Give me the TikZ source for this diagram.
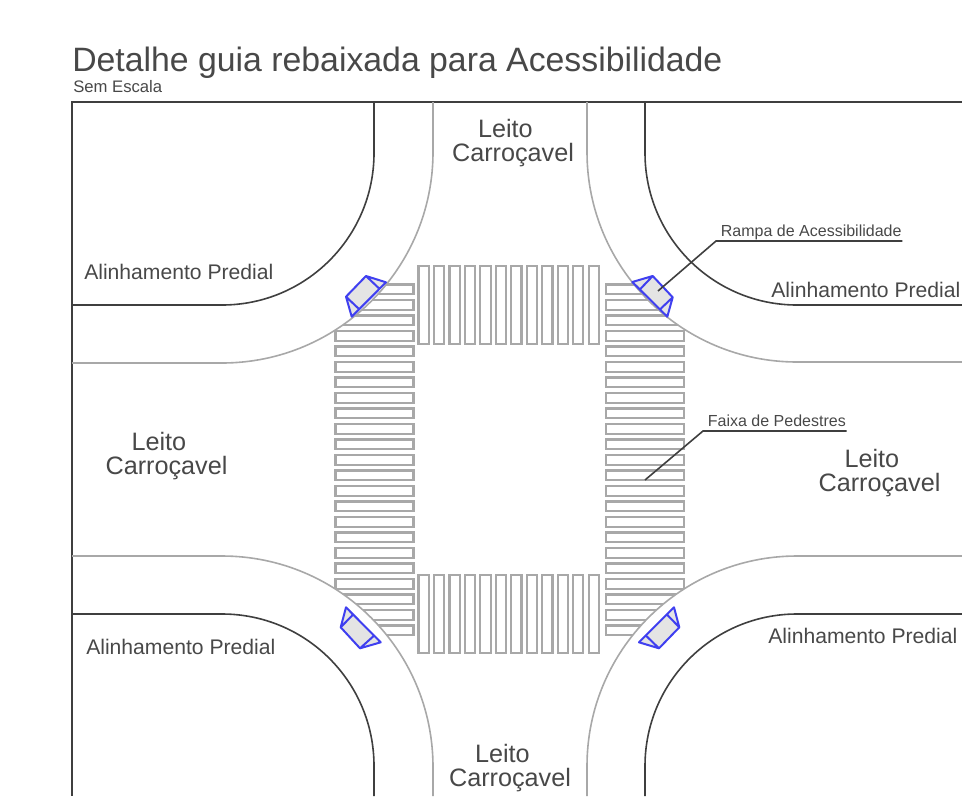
\documentclass[tikz,border=0pt]{standalone}
\usepackage{fontspec}
\setmainfont{Liberation Sans}
\usepackage{tikz}
\definecolor{kerbgray}{HTML}{A8A8A8}
\definecolor{walldark}{HTML}{3F3F3F}
\definecolor{textgray}{HTML}{484848}
\definecolor{rampblue}{HTML}{3F3FF0}
\definecolor{rampfill}{HTML}{E4E4E4}
\tikzstyle{wall}=[%
      draw=walldark, line width=1.2pt
]
\tikzstyle{kerb}=[%
      draw=kerbgray, line width=1.2pt
]
\tikzstyle{bar}=[%
      draw=kerbgray, line width=1.6pt, fill=white
]
\tikzstyle{ramp}=[%
      draw=rampblue, line width=1.5pt, fill=rampfill, line join=round
]
\tikzstyle{road}=[%
      text=textgray, align=left, font=\fontsize{18.9}{18.5}\selectfont, inner sep=0pt
]
\tikzstyle{wallname}=[%
      text=textgray, font=\fontsize{15.85}{15.85}\selectfont, inner sep=0pt
]
\tikzstyle{note}=[%
      text=textgray, font=\fontsize{12}{12}\selectfont, inner xsep=0.5pt, inner ysep=1.5pt, text depth=1.7pt
]
\tikzstyle{leader}=[%
      draw=walldark, line width=1.2pt
]
\begin{document}
\begin{tikzpicture}[x=0.75pt, y=-0.75pt]
    \useasboundingbox (0,0) rectangle (962,796);
    \clip (0,0) rectangle (962,796);

    % zebra bars, cut off along the kerb
    \begin{scope}
    \clip (433,102) -- (433,152) arc[start angle=0, end angle=90, radius=211]
          -- (72,363) -- (72,556) -- (222,556) arc[start angle=-90, end angle=0, radius=211]
          -- (433,796) -- (587,796) -- (587,766) arc[start angle=180, end angle=270, radius=210]
          -- (962,556) -- (962,362) -- (797,362) arc[start angle=90, end angle=180, radius=210]
          -- (587,102) -- cycle;
    \foreach \i in {0,...,11} {
        \draw[bar] ({418.5+15.47*\i},266) rectangle ++(10.2,78);
        \draw[bar] ({418.5+15.47*\i},575) rectangle ++(10.2,78);
    }
    \foreach \i in {0,...,22} {
        \draw[bar] (335.5,{284.5+15.5*\i}) rectangle ++(78,9.7);
        \draw[bar] (606,{284.5+15.5*\i}) rectangle ++(78,9.7);
    }
    \end{scope}

    % frame and building lines
    \draw[wall] (962,102) -- (72,102) -- (72,796);
    \draw[wall] (374,102) -- (374,153) arc[start angle=0, end angle=90, radius=152] -- (72,305);
    \draw[wall] (645,102) -- (645,153) arc[start angle=180, end angle=90, radius=152] -- (962,305);
    \draw[wall] (72,614) -- (222,614) arc[start angle=-90, end angle=0, radius=152] -- (374,796);
    \draw[wall] (962,614) -- (797,614) arc[start angle=-90, end angle=-180, radius=152] -- (645,796);

    % kerbs
    \draw[kerb] (433,102) -- (433,152) arc[start angle=0, end angle=90, radius=211] -- (72,363);
    \draw[kerb] (587,102) -- (587,152) arc[start angle=180, end angle=90, radius=210] -- (962,362);
    \draw[kerb] (72,556) -- (222,556) arc[start angle=-90, end angle=0, radius=211] -- (433,796);
    \draw[kerb] (962,556) -- (797,556) arc[start angle=-90, end angle=-180, radius=210] -- (587,796);

    % ramps
    \draw[ramp] (386,282.3) -- (366,276) -- (346,296.7) -- (351.7,316.7) -- cycle
                (366,276) -- (380,289.3) (346,296.7) -- (359.3,309.3);
    \draw[ramp] (632.3,282) -- (652.7,276) -- (672.7,297.3) -- (667.3,316.7) -- cycle
                (652.7,276) -- (640,289.3) (672.7,297.3) -- (660.7,308.7);
    \draw[ramp] (346,607.3) -- (340.7,627.3) -- (360,648.3) -- (380.7,642.3) -- cycle
                (340.7,627.3) -- (353.3,614.3) (360,648.3) -- (374,635.7);
    \draw[ramp] (674,607.3) -- (679.3,627.3) -- (659,648.3) -- (639,642.3) -- cycle
                (679.3,627.3) -- (666.7,614.3) (659,648.3) -- (646,635.7);

    % texts
    \node[anchor=base west, inner sep=0pt, text=textgray, font=\fontsize{25.35}{25.35}\selectfont] (title) at (72,71) {Detalhe guia rebaixada para Acessibilidade};
    \node[anchor=base west, inner sep=0pt, text=textgray, font=\fontsize{12.5}{12.5}\selectfont] (scale) at (73,92) {Sem Escala};

    \node[road] (roadN) at (513,143) {\hspace*{19.5pt}Leito\\Carroçavel};
    \node[road] (roadW) at (166.5,456) {\hspace*{19.5pt}Leito\\Carroçavel};
    \node[road] (roadE) at (879.5,473) {\hspace*{19.5pt}Leito\\Carroçavel};
    \node[road] (roadS) at (510,768) {\hspace*{19.5pt}Leito\\Carroçavel};

    \node[wallname, anchor=base west] (wallNW) at (84,279) {Alinhamento Predial};
    \node[wallname, anchor=base west] (wallNE) at (771,297) {Alinhamento Predial};
    \node[wallname, anchor=base west] (wallSW) at (86,654) {Alinhamento Predial};
    \node[wallname, anchor=base west] (wallSE) at (768,643) {Alinhamento Predial};

    % leaders
    \node[note, anchor=south west] (rampnote) at (720,241) {Rampa de Acessibilidade};
    \node[note, anchor=south west] (zebranote) at (707,431) {Faixa de Pedestres};
    \coordinate (ramptip) at (658,291);
    \coordinate (rampknee) at (716,241);
    \coordinate (zebratip) at (645,480);
    \coordinate (zebraknee) at (703,431);
    \draw[leader] (ramptip) -- (rampknee) -- (rampnote.south east);
    \draw[leader] (zebratip) -- (zebraknee) -- (zebranote.south east);
\end{tikzpicture}
\end{document}
